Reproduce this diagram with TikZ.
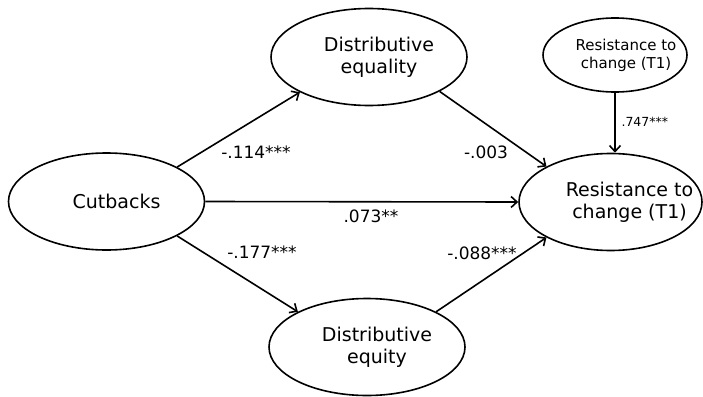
\documentclass[tikz,border=0pt]{standalone}
\usepackage{fontspec}
\setmainfont{DejaVu Sans}
\usetikzlibrary{shapes.geometric,arrows.meta}

\begin{document}
\begin{tikzpicture}[x=1pt, y=-1pt,
  latent/.style={draw, ellipse, line width=1.6pt, inner sep=0pt, minimum width=196pt, minimum height=97pt},
  lattext/.style={font=\fontsize{19}{22}\selectfont, align=center, xshift=10pt},
  small/.style={latent, minimum width=144pt, minimum height=74pt},
  smalltext/.style={font=\fontsize{15}{18}\selectfont, align=center, xshift=11pt},
  effect/.style={-{Straight Barb[length=6pt,width=11pt]}, line width=1.6pt},
  coef/.style={font=\fontsize{17}{20}\selectfont}
]
\useasboundingbox (0,0) rectangle (703,396);
\node[latent, label={[lattext]center:Cutbacks}] (cut) at (106.5,201.5) {};
\node[latent, label={[lattext]center:Distributive\\equality}] (equal) at (369,57) {};
\node[latent, label={[lattext]center:Distributive\\equity}] (equit) at (367,347) {};
\node[latent, minimum width=183pt, label={[lattext, xshift=9pt]center:Resistance to\\change (T1)}] (rtc) at (610.5,202) {};
\node[small, label={[smalltext]center:Resistance to\\change (T1)}] (rtc0) at (615,55) {};
% paths
\draw[effect] (cut.26) -- (equal.207);
\draw[effect] (cut.334) -- (equit.153);
\draw[effect] (cut.east) -- (rtc.west);
\draw[effect] (equal.334) -- (rtc.151);
\draw[effect] (equit.27) -- (rtc.209);
\draw[effect] (rtc0.south) -- (rtc0.south |- rtc.north);
% coefficients
\node[coef] (c1) at (256,152) {-.114***};
\node[coef] (c2) at (262,252) {-.177***};
\node[coef] (c3) at (371,216) {.073**};
\node[coef] (c4) at (486,152) {-.003};
\node[coef] (c5) at (482,253) {-.088***};
\node[coef, font=\fontsize{12.5}{15}\selectfont, anchor=west] (c6) at (618,122) {.747***};
\end{tikzpicture}
\end{document}
